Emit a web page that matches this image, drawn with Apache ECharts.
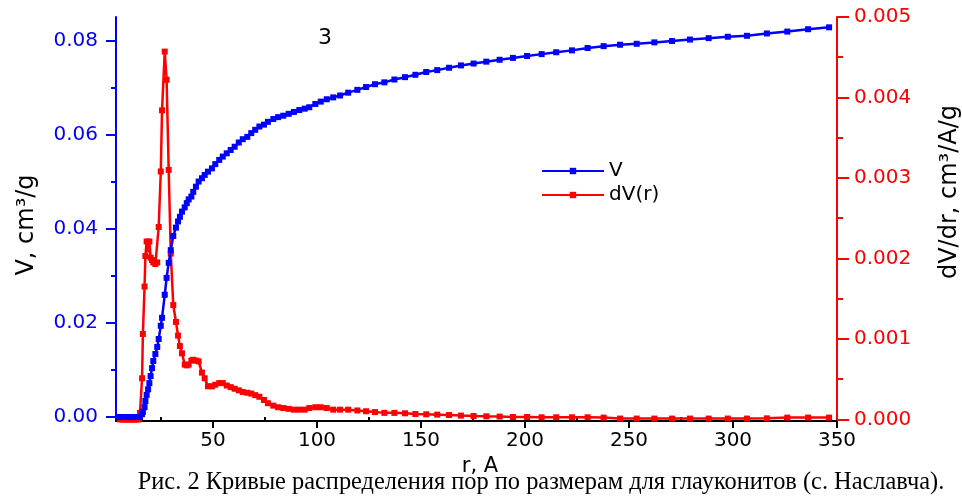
<!DOCTYPE html>
<html>
<head>
<meta charset="utf-8">
<script src="https://cdn.jsdelivr.net/npm/echarts@6/dist/echarts.min.js"></script>
<style>html,body{margin:0;padding:0;background:#fff}#c{width:962px;height:496px}</style>
</head>
<body>
<div id="c"></div>
<script>
// pore radius r, A
const rValues = [
  5.3, 5.9, 6.5, 7.1, 7.7, 8.3, 8.9, 9.5, 10.1, 10.7, 11.3, 11.9, 12.5, 13.1, 13.7, 14.3,
  14.9, 15.9, 16.3, 17.1, 17.5, 18.1, 18.8, 19.4, 20.0, 20.7,
  21.3, 22.3, 23.2, 23.9, 24.9, 25.5, 26.8, 27.7, 28.7, 29.7,
  30.9, 32.2, 33.2, 34.1, 35.1, 36.4, 37.4, 38.3, 39.6, 40.5,
  41.8, 43.1, 44.7, 46.0, 47.6, 49.5, 51.1, 53.0, 54.7, 56.6,
  58.5, 60.4, 62.4, 64.3, 66.5, 68.4, 70.3, 72.3, 74.5, 76.4,
  79.0, 81.3, 83.8, 86.4, 88.9, 91.5, 94.1, 96.3, 99.2, 101.8,
  104.7, 107.8, 111.1, 115.0, 119.4, 123.6, 127.9, 132.4, 137.2, 142.3,
  147.3, 152.5, 157.8, 163.5, 169.2, 175.3, 181.4, 187.8, 194.2, 201.0,
  208.0, 215.0, 222.6, 230.1, 237.8, 245.7, 253.7, 262.2, 270.7, 279.3,
  288.3, 297.5, 306.7, 316.3, 326.1, 336.1, 346.2
];
// cumulative pore volume V, cm3/g
const vValues = [
  0, 0, 0, 0, 0, 0, 0, 0, 0, 0, 0, 0, 0, 0, 0, 0,
  0, 0.0006, 0.0011, 0.0021, 0.0034, 0.0047, 0.0059, 0.0072, 0.0087, 0.0104,
  0.0119, 0.0134, 0.0149, 0.0166, 0.0194, 0.0211, 0.0260, 0.0296, 0.0328, 0.0355,
  0.0385, 0.0403, 0.0416, 0.0426, 0.0437, 0.0446, 0.0455, 0.0463, 0.0469, 0.0479,
  0.0490, 0.0501, 0.0508, 0.0515, 0.0522, 0.0529, 0.0538, 0.0547, 0.0554, 0.0561,
  0.0568, 0.0575, 0.0584, 0.0591, 0.0596, 0.0604, 0.0611, 0.0618, 0.0622, 0.0628,
  0.0634, 0.0638, 0.0641, 0.0645, 0.0649, 0.0653, 0.0656, 0.0659, 0.0666, 0.0671,
  0.0676, 0.0680, 0.0684, 0.0690, 0.0696, 0.0702, 0.0708, 0.0712, 0.0718, 0.0723,
  0.0728, 0.0734, 0.0738, 0.0743, 0.0748, 0.0752, 0.0756, 0.0760, 0.0764, 0.0768,
  0.0772, 0.0776, 0.0780, 0.0785, 0.0789, 0.0792, 0.0794, 0.0797, 0.0800, 0.0803,
  0.0806, 0.0809, 0.0811, 0.0816, 0.0820, 0.0825, 0.0829
];
// differential distribution dV/dr, cm3/A/g
const dvValues = [
  0, 0, 0, 0, 0, 0, 0, 0, 0, 0, 0, 0, 0, 0, 0, 0,
  0.00008, 0.00051, 0.00106, 0.00165, 0.00203, 0.00221, 0.00211, 0.00221, 0.00201, 0.00198,
  0.00195, 0.00193, 0.00195, 0.00239, 0.00308, 0.00384, 0.00457, 0.00422, 0.00310, 0.00206,
  0.00142, 0.00121, 0.00104, 0.00091, 0.00082, 0.00068, 0.00067, 0.00068, 0.00073, 0.00074,
  0.00073, 0.00072, 0.00058, 0.00051, 0.00041, 0.00041, 0.00043, 0.00045, 0.00045, 0.00042,
  0.00040, 0.00038, 0.00036, 0.00034, 0.00033, 0.00032, 0.00030, 0.00028, 0.00024, 0.00020,
  0.00017, 0.00015, 0.00014, 0.00013, 0.00012, 0.00012, 0.00012, 0.00014, 0.00015, 0.00015,
  0.00014, 0.00012, 0.00012, 0.00012, 0.00011, 0.00010, 0.00009, 0.00008, 0.00008, 0.000075,
  0.000066, 0.000062, 0.000058, 0.000053, 0.000046, 0.000041, 0.000037, 0.000034, 0.000029, 0.000029,
  0.000025, 0.000025, 0.000025, 0.000025, 0.000021, 0.000009, 0.000009, 0.000009, 0.000009, 0.000009,
  0.000009, 0.000009, 0.000009, 0.000012, 0.000021, 0.000021, 0.000021
];
const xTicks = [50, 100, 150, 200, 250, 300, 350];
const xMinorTicks = [25, 75, 125, 175, 225, 275, 325];
const vTicks = [0, 0.02, 0.04, 0.06, 0.08];
const vMinorTicks = [0.01, 0.03, 0.05, 0.07];
const dvTicks = [0, 0.001, 0.002, 0.003, 0.004, 0.005];
const dvMinorTicks = [0.0005, 0.0015, 0.0025, 0.0035, 0.0045];
const seriesNames = ['V', 'dV(r)'];

const BLUE = '#0000ff', RED = '#ff0000';
const SANS = 'DejaVu Sans';
const X_MIN = 3.37, X_MAX = 350;
const V_MIN = -0.00085, V_MAX = 0.0851;
const D_MIN = -0.000021, D_MAX = 0.005;

const chart = echarts.init(document.getElementById('c'), null, {renderer: 'canvas'});
const vData = rValues.map((r, i) => [r, vValues[i]]);
const dvData = rValues.map((r, i) => [r, dvValues[i]]);

function hiddenAxis(extra) {
  return Object.assign({
    type: 'value', axisLine: {show: false}, axisLabel: {show: false}, splitLine: {show: false}
  }, extra);
}

chart.setOption({
  animation: false,
  backgroundColor: '#ffffff',
  grid: {left: 116, right: 125, top: 17, bottom: 75, containLabel: false},
  legend: {
    data: seriesNames, orient: 'vertical', left: 536, top: 156,
    itemWidth: 62, itemHeight: 8, itemGap: 4,
    textStyle: {fontFamily: SANS, fontSize: 20, color: '#000'}
  },
  xAxis: [
    {
      type: 'value', min: X_MIN, max: X_MAX, position: 'bottom',
      axisLine: {onZero: false, lineStyle: {color: '#000', width: 2}},
      axisTick: {customValues: xTicks, length: 7, lineStyle: {color: '#000', width: 2}},
      axisLabel: {customValues: xTicks, color: '#000', fontFamily: SANS, fontSize: 20, margin: 10},
      splitLine: {show: false}
    },
    hiddenAxis({min: X_MIN, max: X_MAX, position: 'bottom',
      axisTick: {customValues: xMinorTicks, length: 4, lineStyle: {color: '#000', width: 2}}})
  ],
  yAxis: [
    {
      type: 'value', min: V_MIN, max: V_MAX, position: 'left',
      axisLine: {show: true, onZero: false, lineStyle: {color: BLUE, width: 2}},
      axisTick: {customValues: vTicks, length: 10, lineStyle: {color: BLUE, width: 2}},
      axisLabel: {customValues: vTicks, color: BLUE, fontFamily: SANS, fontSize: 20, margin: 18,
        formatter: v => v.toFixed(2)},
      splitLine: {show: false}
    },
    {
      type: 'value', min: D_MIN, max: D_MAX, position: 'right',
      axisLine: {show: true, onZero: false, lineStyle: {color: RED, width: 2}},
      axisTick: {customValues: dvTicks, length: 12, lineStyle: {color: RED, width: 2}},
      axisLabel: {customValues: dvTicks, color: RED, fontFamily: SANS, fontSize: 20, margin: 17,
        formatter: v => v.toFixed(3)},
      splitLine: {show: false}
    },
    hiddenAxis({min: V_MIN, max: V_MAX, position: 'left',
      axisTick: {show: true, customValues: vMinorTicks, length: 5, lineStyle: {color: BLUE, width: 2}}}),
    hiddenAxis({min: D_MIN, max: D_MAX, position: 'right',
      axisTick: {show: true, customValues: dvMinorTicks, length: 6, lineStyle: {color: RED, width: 2}}})
  ],
  series: [
    {
      name: seriesNames[1], type: 'line', xAxisIndex: 0, yAxisIndex: 1, data: dvData,
      symbol: 'rect', symbolSize: 6, showAllSymbol: true, z: 2,
      lineStyle: {color: RED, width: 2.5}, itemStyle: {color: RED}
    },
    {
      name: seriesNames[0], type: 'line', xAxisIndex: 0, yAxisIndex: 0, data: vData,
      symbol: 'rect', symbolSize: 6, showAllSymbol: true, z: 3,
      lineStyle: {color: BLUE, width: 2.5}, itemStyle: {color: BLUE}
    }
  ],
  graphic: [
    {type: 'text', x: 27, y: 225, rotation: Math.PI / 2,
      style: {text: 'V, cm³/g', fontFamily: SANS, fontSize: 24, fill: '#000', align: 'center', verticalAlign: 'middle'}},
    {type: 'text', x: 950, y: 192, rotation: Math.PI / 2,
      style: {text: 'dV/dr, cm³/A/g', fontFamily: SANS, fontSize: 24, fill: '#000', align: 'center', verticalAlign: 'middle'}},
    {type: 'text', x: 325, y: 38,
      style: {text: '3', fontFamily: SANS, fontSize: 22, fill: '#000', align: 'center', verticalAlign: 'middle'}},
    {type: 'text', x: 480, y: 467,
      style: {text: 'r, A', fontFamily: SANS, fontSize: 21, fill: '#000', align: 'center', verticalAlign: 'middle'}},
    {type: 'text', x: 541, y: 483,
      style: {text: 'Рис. 2 Кривые распределения пор по размерам для глауконитов (с. Наславча).',
        fontFamily: 'Liberation Serif', fontSize: 24.4, fill: '#000', align: 'center', verticalAlign: 'middle'}}
  ]
});
</script>
</body>
</html>
